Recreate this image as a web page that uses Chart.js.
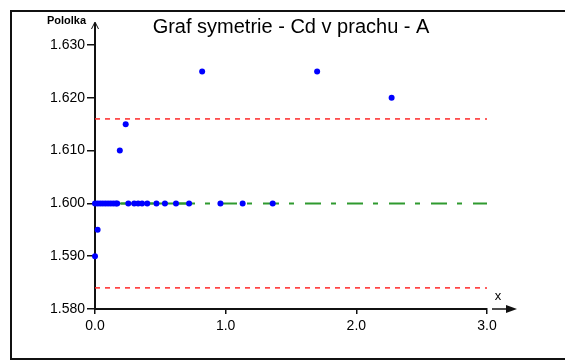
<!DOCTYPE html>
<html>
<head>
<meta charset="utf-8">
<script src="https://cdn.jsdelivr.net/npm/chart.js@4/dist/chart.umd.min.js"></script>
<style>
html,body{margin:0;padding:0;background:#fff;}
#wrap{width:565px;height:361px;position:relative;}
</style>
</head>
<body>
<div id="wrap"><canvas id="c" width="565" height="361"></canvas></div>
<script>
// ---- data ----
const titleText = "Graf symetrie - Cd v prachu - A";
const yAxisLabel = "Pololka";
const xAxisLabel = "x";
const pointX = [0, 0.02, 0.04, 0.06, 0.08, 0.10, 0.12, 0.14, 0.16, 0.17, 0.255, 0.30, 0.33, 0.36, 0.40, 0.47, 0.535, 0.62, 0.72, 0.96, 1.13, 1.36, 0, 0.02, 0.19, 0.235, 0.82, 1.70, 2.27];
const pointY = [1.600, 1.600, 1.600, 1.600, 1.600, 1.600, 1.600, 1.600, 1.600, 1.600, 1.600, 1.600, 1.600, 1.600, 1.600, 1.600, 1.600, 1.600, 1.600, 1.600, 1.600, 1.600, 1.590, 1.595, 1.610, 1.615, 1.625, 1.625, 1.620];
const lineX = [0, 3];
const upperLimit = [1.616, 1.616];
const centerLine = [1.600, 1.600];
const lowerLimit = [1.584, 1.584];
const solidX = [0, 0.72];
const solidY = [1.600, 1.600];
const xTicksRange = [0, 3];
const yTicksRange = [1.58, 1.63];

const pts = pointX.map((x, i) => ({x: x, y: pointY[i]}));
const toPts = (ys) => lineX.map((x, i) => ({x: x, y: ys[i]}));
const solidPts = solidX.map((x, i) => ({x: x, y: solidY[i]}));

const decor = {
  id: 'decor',
  beforeDraw(chart) {
    const ctx = chart.ctx;
    ctx.save();
    ctx.fillStyle = '#fff';
    ctx.fillRect(0, 0, chart.width, chart.height);
    ctx.strokeStyle = '#111';
    ctx.lineWidth = 2;
    ctx.beginPath();
    ctx.moveTo(11, 360);
    ctx.lineTo(11, 11);
    ctx.lineTo(570, 11);
    ctx.moveTo(11, 359);
    ctx.lineTo(570, 359);
    ctx.stroke();
    ctx.restore();
  },
  afterDraw(chart) {
    const ctx = chart.ctx;
    const xs = chart.scales.x, ys = chart.scales.y;
    const x0 = xs.getPixelForValue(0);
    const yTop = ys.getPixelForValue(yTicksRange[1]);
    const yBot = ys.getPixelForValue(yTicksRange[0]);
    const xEnd = xs.getPixelForValue(xTicksRange[1]);
    ctx.save();
    ctx.strokeStyle = '#111';
    ctx.fillStyle = '#111';
    ctx.lineWidth = 2;
    ctx.beginPath();
    ctx.moveTo(x0, yTop);
    ctx.lineTo(x0, yTop - 22);
    ctx.stroke();
    ctx.lineWidth = 1;
    ctx.beginPath();
    ctx.moveTo(x0 - 3.5, yTop - 16);
    ctx.lineTo(x0, yTop - 23);
    ctx.lineTo(x0 + 3.5, yTop - 16);
    ctx.stroke();
    ctx.lineWidth = 1.5;
    ctx.beginPath();
    ctx.moveTo(xEnd + 5, yBot);
    ctx.lineTo(xEnd + 24, yBot);
    ctx.stroke();
    ctx.beginPath();
    ctx.moveTo(xEnd + 30, yBot);
    ctx.lineTo(xEnd + 19, yBot - 4);
    ctx.lineTo(xEnd + 19, yBot + 4);
    ctx.closePath();
    ctx.fill();
    ctx.fillStyle = '#000';
    ctx.font = 'bold 11px "Liberation Sans", Arial, sans-serif';
    ctx.textAlign = 'right';
    ctx.textBaseline = 'middle';
    ctx.fillText(yAxisLabel, x0 - 9, yTop - 24);
    ctx.font = '13px "Liberation Sans", Arial, sans-serif';
    ctx.textAlign = 'center';
    ctx.fillText(xAxisLabel, xEnd + 11, yBot - 13);
    ctx.restore();
  }
};

new Chart(document.getElementById('c'), {
  type: 'scatter',
  data: {
    datasets: [
      {
        type: 'scatter', data: pts, order: 0, clip: {left: 10, top: 10, right: 10, bottom: 10},
        pointRadius: 3, pointHoverRadius: 3,
        backgroundColor: '#0000ff', borderColor: '#0000ff', pointBorderWidth: 0
      },
      {
        type: 'line', data: solidPts, order: 1,
        borderColor: '#2f9a2f', borderWidth: 2,
        pointRadius: 0, fill: false
      },
      {
        type: 'line', data: toPts(centerLine), order: 1,
        borderColor: '#2f9a2f', borderWidth: 2, borderDash: [16, 10, 5, 11],
        pointRadius: 0, fill: false
      },
      {
        type: 'line', data: toPts(upperLimit), order: 2,
        borderColor: '#ff2a2a', borderWidth: 1.5, borderDash: [5, 5],
        pointRadius: 0, fill: false
      },
      {
        type: 'line', data: toPts(lowerLimit), order: 2,
        borderColor: '#ff2a2a', borderWidth: 1.5, borderDash: [5, 5],
        pointRadius: 0, fill: false
      }
    ]
  },
  options: {
    responsive: false,
    animation: false,
    events: [],
    layout: {padding: {left: 0, right: 78, top: 0, bottom: 0}},
    plugins: {
      legend: {display: false},
      tooltip: {enabled: false},
      title: {
        display: true, text: titleText, fullSize: false,
        color: '#000',
        font: {family: '"Liberation Sans", Arial, sans-serif', size: 20, weight: 'normal', lineHeight: 1.2},
        padding: {top: 15, bottom: 6}
      }
    },
    scales: {
      x: {
        type: 'linear', min: xTicksRange[0], max: xTicksRange[1],
        afterFit(s) { s.height = 52; },
        ticks: {stepSize: 1, color: '#000', padding: 4,
          font: {family: '"Liberation Sans", Arial, sans-serif', size: 14},
          callback: v => Number(v).toFixed(1)},
        grid: {display: true, drawOnChartArea: false, drawTicks: true, tickLength: 5, color: '#111', lineWidth: 1.5},
        border: {display: true, color: '#111', width: 2}
      },
      y: {
        type: 'linear', min: yTicksRange[0], max: yTicksRange[1],
        afterFit(s) { s.width = 95; },
        ticks: {stepSize: 0.01, color: '#000', padding: 2,
          font: {family: '"Liberation Sans", Arial, sans-serif', size: 14},
          callback: v => Number(v).toFixed(3)},
        grid: {display: true, drawOnChartArea: false, drawTicks: true, tickLength: 8, color: '#111', lineWidth: 1.5},
        border: {display: true, color: '#111', width: 2}
      }
    }
  },
  plugins: [decor]
});
</script>
</body>
</html>
